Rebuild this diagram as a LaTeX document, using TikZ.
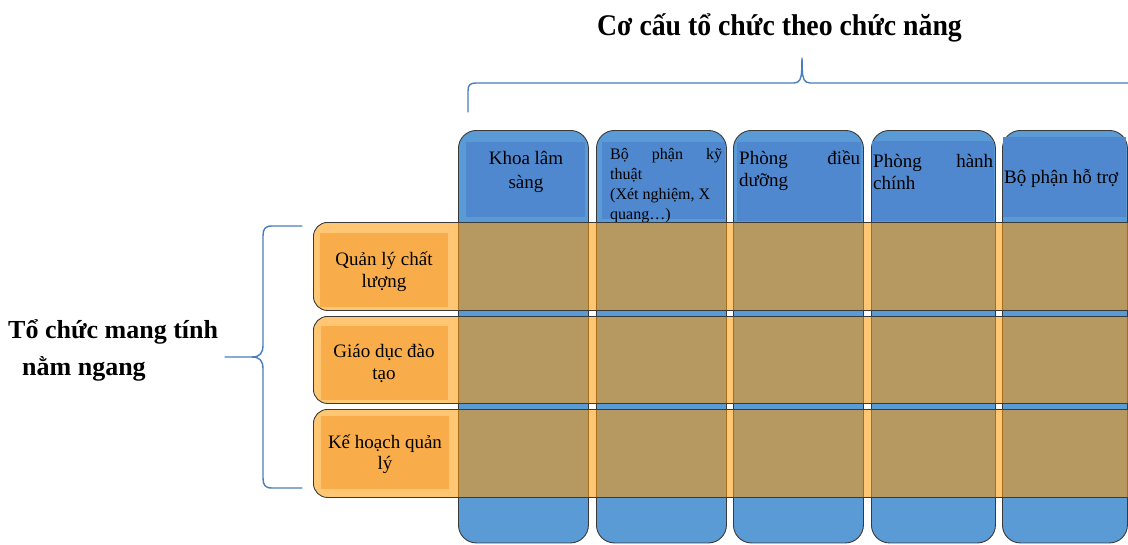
\documentclass[tikz,border=0pt]{standalone}
\usepackage{fontspec}
\setmainfont{Liberation Serif}
\usepackage{graphicx}

\definecolor{colblue}{HTML}{5B9BD5}
\definecolor{colinner}{HTML}{4F88CE}
\definecolor{rowtint}{RGB}{255,153,0}
\definecolor{rowinner}{HTML}{F9AD4A}
\definecolor{bracecol}{HTML}{4A7EBB}
\definecolor{edgecol}{HTML}{3A3A3A}

\begin{document}
\begin{tikzpicture}[x=1pt,y=-1pt,
  colbox/.style={draw=edgecol, line width=0.9pt, fill=colblue, rounded corners=18pt,
    anchor=north west, inner sep=0pt, minimum height=412.5pt},
  colhead/.style={fill=colinner, draw=none, anchor=north west, inner sep=0pt},
  rowbox/.style={draw=edgecol, line width=0.9pt, fill=rowtint, fill opacity=0.55,
    draw opacity=1, rounded corners=14pt, anchor=north west, inner sep=0pt,
    minimum width=840pt},
  rowhead/.style={fill=rowinner, draw=none, anchor=north west, inner sep=0pt},
  bracket/.style={draw=bracecol, line width=1.4pt, line join=round, line cap=round},
  coltext/.style={font=\fontsize{19}{24}\selectfont, inner sep=0pt},
  rowtext/.style={font=\fontsize{19}{22}\selectfont, inner sep=0pt, align=center, anchor=base},
  heading/.style={font=\fontsize{30}{36}\selectfont\bfseries, inner sep=0pt},
  sidelabel/.style={font=\fontsize{26}{32}\selectfont\bfseries, inner sep=0pt, anchor=base west}]

\useasboundingbox (0,0) rectangle (1128,544);
\clip (0,0) rectangle (1128,544);

% functional columns
\node[colbox, minimum width=130pt] (c1) at (458,130) {};
\node[colbox, minimum width=130pt] (c2) at (596,130) {};
\node[colbox, minimum width=130pt] (c3) at (733,130) {};
\node[colbox, minimum width=124pt] (c4) at (871,130) {};
\node[colbox, minimum width=125pt] (c5) at (1002,130) {};

% column heading panels
\node[colhead, minimum width=119pt, minimum height=75pt] (h1) at (466,142) {};
\node[colhead, minimum width=123pt, minimum height=77pt] (h2) at (602,142) {};
\node[colhead, minimum width=124pt, minimum height=79pt] (h3) at (737,142) {};
\node[colhead, minimum width=122pt, minimum height=80pt] (h4) at (872,141) {};
\node[colhead, minimum width=123pt, minimum height=80pt] (h5) at (1003,137) {};

% column headings (base anchor sits on the last line)
\node[coltext, align=center, anchor=base] (t1) at (526,188) {Khoa lâm\\sàng};
\node[font=\fontsize{16}{20}\selectfont, inner sep=0pt, align=left, anchor=base west] (t2)
  at (610,219) {\hbox to 112pt{Bộ\hfill phận\hfill kỹ}\\thuật\\(Xét nghiệm, X\\quang…)};
\node[font=\fontsize{19}{22}\selectfont, inner sep=0pt, align=left, anchor=base west] (t3)
  at (739,186) {\hbox to 121pt{Phòng\hfill điều}\\dưỡng};
\node[font=\fontsize{19}{22}\selectfont, inner sep=0pt, align=left, anchor=base west] (t4)
  at (873,189) {\hbox to 120pt{Phòng\hfill hành}\\chính};
\node[coltext, anchor=base west] (t5) at (1004,183) {Bộ phận hỗ trợ};

% horizontal bands, tinted over the columns
\node[rowbox, minimum height=88pt] (r1) at (313,222) {};
\node[rowbox, minimum height=87pt] (r2) at (313,316) {};
\node[rowbox, minimum height=88pt] (r3) at (313,409) {};

\node[rowhead, minimum width=128pt, minimum height=74pt] (rh1) at (320,233) {};
\node[rowhead, minimum width=127pt, minimum height=74pt] (rh2) at (321,326) {};
\node[rowhead, minimum width=128pt, minimum height=73pt] (rh3) at (321,416) {};

\node[rowtext] (l1) at (384,287) {Quản lý chất\\lượng};
\node[rowtext] (l2) at (384,379) {Giáo dục đào\\tạo};
\node[rowtext, font=\fontsize{19}{21}\selectfont] (l3) at (385,469) {Kế hoạch quản\\lý};

% top brace and its caption
\draw[bracket] (468,112) -- (468,91) .. controls (468,85) and (470,83) .. (476,83)
  -- (794,83) .. controls (800,83) and (801.4,78) .. (801.7,70) -- (802,58)
  -- (802.3,70) .. controls (802.6,78) and (804,83) .. (810,83) -- (1140,83);
\node[heading, anchor=base] (title) at (779.5,35)
  {\scalebox{0.925}[1]{Cơ cấu tổ chức theo chức năng}};

% left brace and its caption
\draw[bracket] (302,226) -- (272,226) .. controls (265,226) and (263,229) .. (263,236)
  -- (263,345) .. controls (263,353) and (260,357) .. (252,357) -- (225,357);
\draw[bracket] (252,357) .. controls (260,357) and (263,361) .. (263,369)
  -- (263,478) .. controls (263,485) and (265,488) .. (272,488) -- (302,488);
\node[sidelabel] (s1) at (8,338) {Tổ chức mang tính};
\node[sidelabel] (s2) at (22,375) {nằm ngang};

\end{tikzpicture}
\end{document}
